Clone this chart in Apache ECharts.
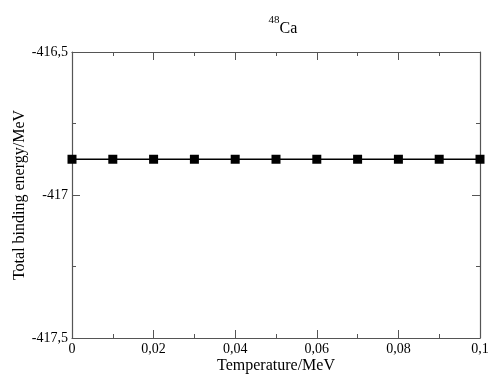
<!DOCTYPE html>
<html><head><meta charset="utf-8">
<script src="https://cdn.jsdelivr.net/npm/echarts@6/dist/echarts.min.js"></script>
<style>html,body{margin:0;padding:0;background:#fff}#c{width:488px;height:380px}</style>
</head><body><div id="c"></div>
<script>
var temperatures = [0, 0.01, 0.02, 0.03, 0.04, 0.05, 0.06, 0.07, 0.08, 0.09, 0.1];
var bindingEnergy = [-416.875, -416.875, -416.875, -416.875, -416.875, -416.875, -416.875, -416.875, -416.875, -416.875, -416.875];
var xTicks = [0, 0.02, 0.04, 0.06, 0.08, 0.1];
var yTicks = [-417.5, -417, -416.5];

var font = '"Liberation Serif", "DejaVu Serif", serif';
function fmt(v){ return String(Number(v.toFixed(4))).replace('.', ','); }
var axisColor = '#555';
var chart = echarts.init(document.getElementById('c'));
var data = temperatures.map(function(t,i){ return [t, bindingEnergy[i]]; });
function xAxisCfg(pos, labels){
  return {
    type:'value', position:pos, min:xTicks[0], max:xTicks[xTicks.length-1], interval:0.02,
    name: labels ? 'Temperature/MeV' : '', nameLocation:'middle', nameGap:20, nameMoveOverlap:false,
    nameTextStyle:{fontFamily:font, fontSize:16, color:'#000'},
    axisLine:{show:true, onZero:false, lineStyle:{color:axisColor, width:1.2}},
    axisTick:{show:true, inside:true, length:8, lineStyle:{color:axisColor}},
    minorTick:{show:true, splitNumber:2, length:4, lineStyle:{color:axisColor}},
    axisLabel:{show:labels, formatter:fmt, fontFamily:font, fontSize:14, color:'#000', margin:4},
    splitLine:{show:false}
  };
}
function yAxisCfg(pos, labels){
  return {
    type:'value', position:pos, min:yTicks[0], max:yTicks[yTicks.length-1], interval:0.5,
    name: labels ? 'Total binding energy/MeV' : '', nameLocation:'middle', nameGap:44, nameMoveOverlap:false,
    nameTextStyle:{fontFamily:font, fontSize:16, color:'#000'},
    axisLine:{show:true, onZero:false, lineStyle:{color:axisColor, width:1.2}},
    axisTick:{show:true, inside:true, length:8, lineStyle:{color:axisColor}},
    minorTick:{show:true, splitNumber:2, length:4, lineStyle:{color:axisColor}},
    axisLabel:{show:labels, formatter:fmt, fontFamily:font, fontSize:14, color:'#000', margin:4},
    splitLine:{show:false}
  };
}
chart.setOption({
  animation:false,
  backgroundColor:'#fff',
  title:{
    text:'{sup|48}{b|Ca}', left:278, top:10, textAlign:'center',
    textStyle:{fontWeight:'normal', rich:{
      sup:{fontFamily:font, fontSize:11, fontWeight:'normal', color:'#000', verticalAlign:'top', padding:[0,0,8,0]},
      b:{fontFamily:font, fontSize:16, fontWeight:'normal', color:'#000', padding:[6,0,0,0]}
    }}
  },
  grid:{left:72, right:8, top:52, bottom:42, outerBoundsMode:'none', containLabel:false},
  xAxis:[xAxisCfg('bottom', true), xAxisCfg('top', false)],
  yAxis:[yAxisCfg('left', true), yAxisCfg('right', false)],
  series:[{
    type:'line', data:data, xAxisIndex:0, yAxisIndex:0,
    symbol:'rect', symbolSize:9, clip:false,
    lineStyle:{color:'#000', width:1.5},
    itemStyle:{color:'#000'}
  }]
});
</script></body></html>
